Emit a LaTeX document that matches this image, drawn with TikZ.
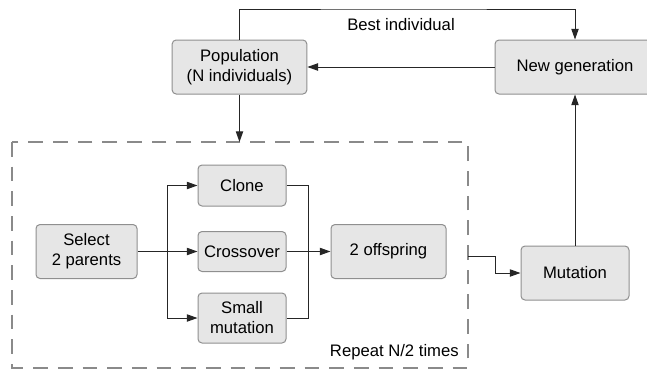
\documentclass[tikz,border=0pt]{standalone}
\usepackage{fontspec}
\setmainfont{Liberation Sans}
\usetikzlibrary{arrows.meta}

\definecolor{boxfill}{HTML}{E6E6E6}
\definecolor{boxline}{HTML}{8F8F8F}
\definecolor{dashline}{HTML}{8A8A8A}

\tikzset{
  box/.style={draw=boxline, fill=boxfill, rounded corners=3pt, line width=0.75pt,
    align=center, inner sep=0pt, font=\fontsize{12.5}{15}\selectfont},
  lbl/.style={inner sep=0pt, font=\fontsize{12.5}{15}\selectfont},
  line/.style={line width=0.75pt, draw=black!85},
  link/.style={line, -{Triangle[length=8pt,width=5.5pt]}},
  repeatbox/.style={draw=dashline, line width=1.5pt, dash pattern=on 11pt off 7.5pt},
}

\begin{document}
\begin{tikzpicture}[x=0.75pt, y=-0.75pt]
  \useasboundingbox (0,0) rectangle (647,369);

  % Outer loop
  \node[box, minimum width=101pt, minimum height=40.5pt] (pop) at (239.5,67) {Population\\(N individuals)};
  \node[box, minimum width=120pt, minimum height=40.5pt] (newgen) at (575,67) {New generation};
  \node[box, minimum width=81pt, minimum height=40.5pt] (mut) at (575,273) {Mutation};

  % Repeated part
  \coordinate (rep-nw) at (12,142);
  \coordinate (rep-se) at (468,367.5);
  \draw[repeatbox] (rep-nw) rectangle (rep-se);
  \node[lbl, anchor=east] (rep) at (459,352) {Repeat N/2 times};

  \node[box, minimum width=75.75pt, minimum height=40.5pt] (sel) at (86.5,251.5) {Select\\2 parents};
  \node[box, minimum width=66pt, minimum height=30.75pt] (clone) at (242,185.5) {Clone};
  \node[box, minimum width=66pt, minimum height=30pt] (cross) at (242,251.5) {Crossover};
  \node[box, minimum width=66pt, minimum height=37.5pt] (smut) at (242,318) {Small\\mutation};
  \node[box, minimum width=86.25pt, minimum height=40.5pt] (off) at (388.5,251.5) {2 offspring};

  \coordinate (split) at (167,251.5);
  \coordinate (join) at (308,251.5);
  \coordinate (toploop) at (400,9);
  \coordinate (rep-out) at (468,256);

  \draw[line] (sel) -- (split);
  \draw[link] (split) |- (clone);
  \draw[link] (split) -- (cross);
  \draw[link] (split) |- (smut);
  \draw[line] (clone) -| (join);
  \draw[line] (smut) -| (join);
  \draw[link] (cross) -- (off);

  \draw[link] (pop) -- (pop |- rep-nw);
  \draw[link] (rep-out) -- ++(27,0) |- (mut);
  \draw[link] (mut) -- (newgen);
  \draw[link] (newgen) -- (pop);
  \draw[link] (pop.north) |- (toploop) -| (newgen.north);
  \node[lbl] (best) at (401,25) {Best individual};
\end{tikzpicture}
\end{document}
